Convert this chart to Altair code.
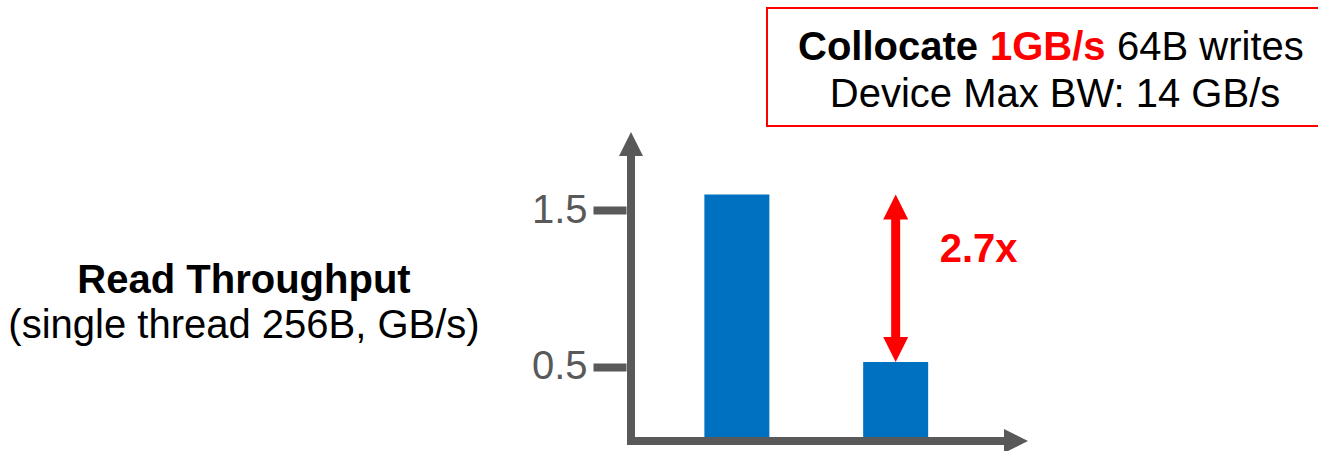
import altair as alt
import pandas as pd

# ---------------- data ----------------
categories = ["Config A", "Config B"]          # bars have no visible labels
throughput = [1.6, 0.53]                       # GB/s
y_ticks = [0.5, 1.5]
ratio_label = ["2.7x"]
y_title_bold = ["Read Throughput"]
y_title_plain = ["(single thread 256B, GB/s)"]
box_bold = ["Collocate"]
box_red = ["1GB/s"]
box_plain = ["64B writes"]
box_line2 = ["Device Max BW: 14 GB/s"]

# ---------------- styling ----------------
FONT = "Liberation Sans"
GREY = "#595959"
BLUE = "#0070C0"
RED = "#FF0000"
X_MIN, X_MAX = 1 / 3, 17 / 6
Y_MIN, Y_MAX = 0.0, 2.0

bars = pd.DataFrame({"cat": categories,
                     "pos": list(range(1, len(categories) + 1)),
                     "value": throughput})
arrow = pd.DataFrame({"x": [bars["pos"].iloc[1]],
                      "top": [throughput[0]],
                      "bottom": [throughput[1]],
                      "mid": [(throughput[0] + throughput[1]) / 2],
                      "label": ratio_label})
axis_df = pd.DataFrame({"x": [X_MIN], "x2": [X_MAX], "y": [Y_MIN], "y2": [Y_MAX]})

xs = alt.Scale(domain=[X_MIN, X_MAX], nice=False, zero=False)
ys = alt.Scale(domain=[Y_MIN, Y_MAX], nice=False, zero=False)

bar_layer = alt.Chart(bars).mark_bar(size=65, color=BLUE).encode(
    x=alt.X("pos:Q", scale=xs, axis=None),
    y=alt.Y("value:Q", scale=ys,
            axis=alt.Axis(values=y_ticks, format=".1f", title=None, domain=False,
                          grid=False, tickSize=33, tickWidth=8, tickColor=GREY,
                          labelFont=FONT, labelFontSize=40, labelColor=GREY,
                          labelPadding=6)),
)

base_axis = alt.Chart(axis_df)
y_line = base_axis.mark_rule(color=GREY, strokeWidth=8, yOffset=20).encode(
    x=alt.X("x:Q", scale=xs), y=alt.Y("y2:Q", scale=ys), y2="y:Q")
x_line = base_axis.mark_rule(color=GREY, strokeWidth=8, xOffset=-4, x2Offset=-20,
                             yOffset=-4).encode(
    x=alt.X("x:Q", scale=xs), x2="x2:Q", y=alt.Y("y:Q", scale=ys))
y_head = base_axis.mark_point(shape="M0,0L1,2L-1,2Z", size=576, filled=True,
                              opacity=1, color=GREY).encode(
    x=alt.X("x:Q", scale=xs), y=alt.Y("y2:Q", scale=ys))
x_head = base_axis.mark_point(shape="M0,0L-2,-1L-2,1Z", size=576, filled=True,
                              opacity=1, color=GREY, yOffset=-4).encode(
    x=alt.X("x2:Q", scale=xs), y=alt.Y("y:Q", scale=ys))

base_arrow = alt.Chart(arrow)
arrow_shaft = base_arrow.mark_rule(color=RED, strokeWidth=9, yOffset=22,
                                   y2Offset=-22).encode(
    x=alt.X("x:Q", scale=xs), y=alt.Y("top:Q", scale=ys), y2="bottom:Q")
arrow_up = base_arrow.mark_point(shape="M0,0L1,2L-1,2Z", size=625, filled=True,
                                 opacity=1, color=RED).encode(
    x=alt.X("x:Q", scale=xs), y=alt.Y("top:Q", scale=ys))
arrow_down = base_arrow.mark_point(shape="M0,0L1,-2L-1,-2Z", size=625, filled=True,
                                   opacity=1, color=RED).encode(
    x=alt.X("x:Q", scale=xs), y=alt.Y("bottom:Q", scale=ys))
ratio_text = base_arrow.mark_text(align="left", baseline="alphabetic", dx=44, dy=-16,
                                  font=FONT, fontSize=40, fontWeight="bold",
                                  color=RED).encode(
    x=alt.X("x:Q", scale=xs), y=alt.Y("mid:Q", scale=ys), text="label:N")


def label(texts, x, y, align="center", weight="normal", color="black"):
    return alt.Chart(pd.DataFrame({"t": texts})).mark_text(
        align=align, baseline="alphabetic", font=FONT, fontSize=40,
        fontWeight=weight, color=color).encode(
        x=alt.value(x), y=alt.value(y), text="t:N")


title1 = label(y_title_bold, -382, 161, weight="bold")
title2 = label(y_title_plain, -382, 206)

box = alt.Chart(pd.DataFrame({"b": [0]})).mark_rect(
    fill="white", stroke=RED, strokeWidth=2).encode(
    x=alt.value(141), x2=alt.value(720), y=alt.value(-124), y2=alt.value(-6))
b1 = label(box_bold, 172, -72, align="left", weight="bold")
b2 = label(box_red, 364, -72, align="left", weight="bold", color=RED)
b3 = label(box_plain, 491, -72, align="left")
b4 = label(box_line2, 429, -25)

chart = alt.layer(
    bar_layer, arrow_shaft, arrow_up, arrow_down, ratio_text,
    y_line, x_line, y_head, x_head,
    title1, title2, box, b1, b2, b3, b4,
).properties(
    width=407, height=313,
    padding={"left": 626, "top": 132, "right": 285, "bottom": 6},
    autosize=alt.AutoSizeParams(type="none"),
    background="white",
).configure_view(stroke=None)

chart.save("out.html", embed_options={"renderer": "svg", "actions": False})
